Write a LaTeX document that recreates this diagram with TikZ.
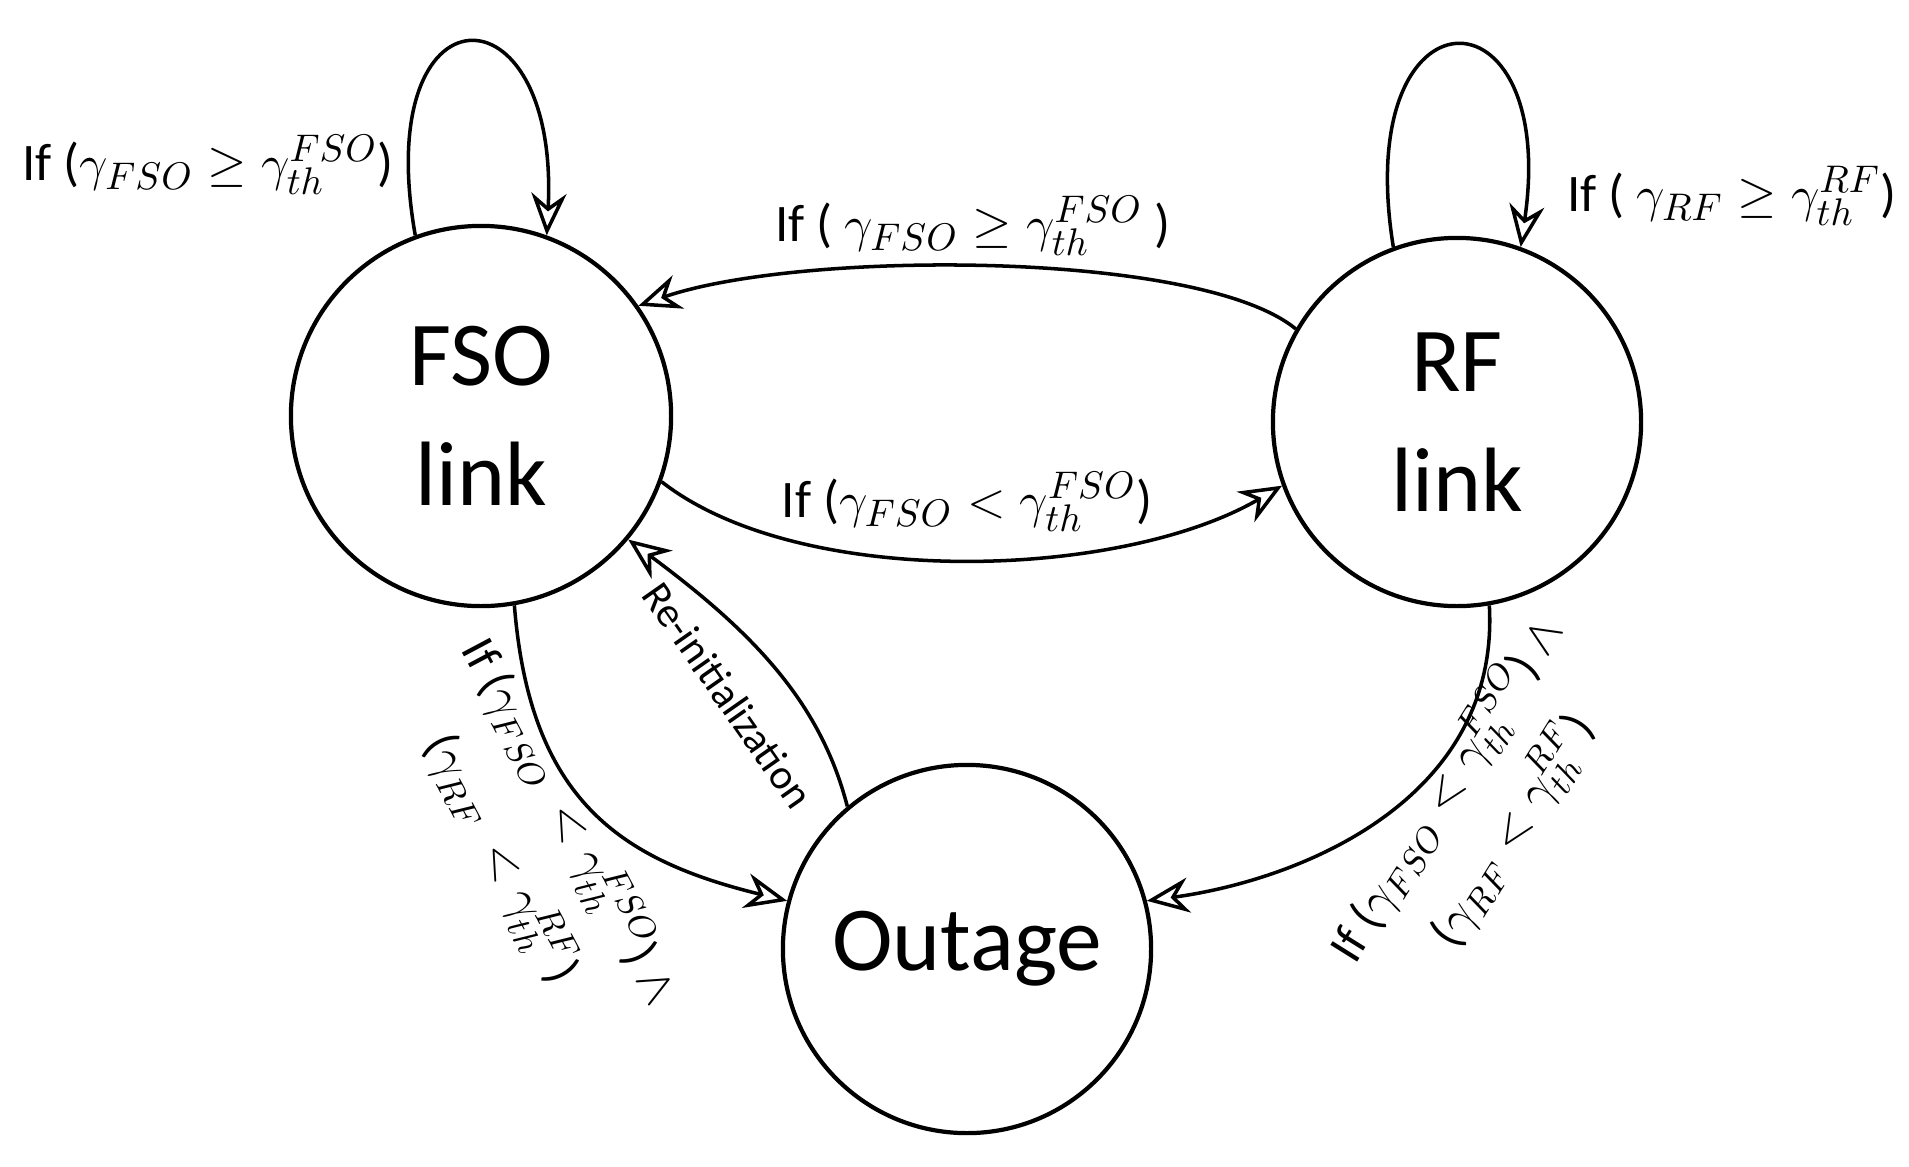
\documentclass[tikz,border=0pt]{standalone}
\usepackage{fontspec}
\setmainfont{Carlito}
\usetikzlibrary{arrows.meta}
\begin{document}
\begin{tikzpicture}[x=0.01cm,y=-0.01cm,
  st/.style={circle,draw,line width=1.2pt,minimum size=#1,inner sep=0pt,align=center,font=\fontsize{26}{34}\selectfont},
  ar/.style={line width=1pt,-{Stealth[open,length=12pt,width=10pt]}},
  lb/.style={font=\fontsize{15}{17}\selectfont,align=center},
  rl/.style={font=\fontsize{14}{22}\selectfont,align=center}]
\useasboundingbox (0,0) rectangle (1909,1166);
\node[st=3.8cm] (F) at (481,416) {FSO\\link};
\node[st=3.68cm] (R) at (1457,422) {RF\\link};
\node[st=3.68cm] (O) at (967,949) {Outage};
\draw[ar] (F.110) .. controls (370,-20) and (560,-20) .. (F.70);
\draw[ar] (R.110) .. controls (1350,-20) and (1560,-20) .. (R.70);
\draw[ar] (R.150) .. controls (1200,250) and (800,250) .. (F.35);
\draw[ar] (F.-20) .. controls (800,590) and (1120,580) .. (R.-160);
\draw[ar] (O.130) .. controls (820,700) and (750,630) .. (F.-40);
\draw[ar] (F.-80) .. controls (530,800) and (620,860) .. (O.165);
\draw[ar] (R.-80) .. controls (1500,800) and (1300,880) .. (O.15);
\node[lb] at (208,165) {If ($\gamma_{FSO}\geq\gamma_{th}^{FSO}$)};
\node[lb] at (1732,196) {If ( $\gamma_{RF}\geq\gamma_{th}^{RF}$)};
\node[lb] at (973,226) {If ( $\gamma_{FSO}\geq\gamma_{th}^{FSO}$ )};
\node[lb] at (967,502) {If ($\gamma_{FSO}<\gamma_{th}^{FSO}$)};
\node[lb,rotate=-55,font=\fontsize{12}{14}\selectfont] at (728,695) {Re-initialization};
\node[rl,rotate=-62] at (535,840) {If ($\gamma_{FSO}\ <\gamma_{th}^{FSO}$) $\wedge$\\($\gamma_{RF}\ <\gamma_{th}^{RF}$)};
\node[rl,rotate=58] at (1480,810) {If ($\gamma_{FSO}<\gamma_{th}^{FSO}$) $\wedge$\\($\gamma_{RF}<\gamma_{th}^{RF}$)};
\end{tikzpicture}
\end{document}
